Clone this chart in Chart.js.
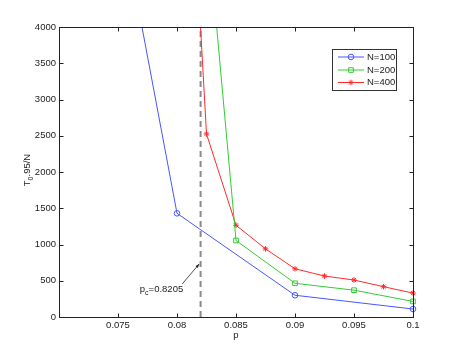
<!DOCTYPE html>
<html>
<head>
<meta charset="utf-8">
<script src="https://cdn.jsdelivr.net/npm/chart.js@4.4.1/dist/chart.umd.min.js"></script>
<style>
  body { margin: 0; background: #fff; }
  canvas { display: block; }
</style>
</head>
<body>
<canvas id="chart" width="457" height="357"></canvas>
<script>
// data
const p100 = [0.075, 0.08, 0.09, 0.1];
const t100 = [5760, 1430, 300, 110];

const p200 = [0.08, 0.085, 0.09, 0.095, 0.1];
const t200 = [10050, 1055, 465, 370, 215];

const p400 = [0.08, 0.0825, 0.085, 0.0875, 0.09, 0.0925, 0.095, 0.0975, 0.1];
const t400 = [9820, 2525, 1265, 940, 665, 565, 510, 418, 330];

const seriesLabels = ['N=100', 'N=200', 'N=400'];

// critical point marker
const pc = 0.082;
const pcRange = [0, 4000];
const pcText = { p: 'p', sub: 'c', rest: '=0.8205' };
const pcTextPos = [0.07685, 386];   // (p, T) of the label
const pcArrowTip = [0.0820, 730];

const xMin = 0.07, xMax = 0.1, xStep = 0.005;
const yMin = 0, yMax = 4000, yStep = 500;

const FONT = '"Liberation Sans", Arial, Helvetica, sans-serif';
const INK = '#222';

function pts(xs, ys) {
    return xs.map((x, i) => ({ x: x, y: ys[i] }));
}

const colors = ['#4656ff', '#33cc33', '#ff2a2a'];
const styles = [
    { pointStyle: 'circle', radius: 2.8 },
    { pointStyle: 'rect', radius: 3.3 },
    { pointStyle: 'star', radius: 2.8 }
];

function series(i, data) {
    return {
        label: seriesLabels[i],
        data: data,
        borderColor: colors[i],
        backgroundColor: 'rgba(0,0,0,0)',
        borderWidth: 1,
        pointStyle: styles[i].pointStyle,
        pointRadius: styles[i].radius,
        pointBorderWidth: 1,
        pointBorderColor: colors[i],
        pointBackgroundColor: 'rgba(0,0,0,0)',
        tension: 0,
        clip: { left: 6, top: 0, right: 8, bottom: 6 }
    };
}

// box, inward ticks, axis titles, legend, annotation
const decorations = {
    id: 'decorations',
    afterDraw(chart) {
        const ctx = chart.ctx;
        const a = chart.chartArea;
        const xs = chart.scales.x, ys = chart.scales.y;
        ctx.save();
        ctx.strokeStyle = INK;
        ctx.lineWidth = 1;
        const L = Math.round(a.left) + 0.5, R = Math.round(a.right) + 0.5;
        const T = Math.round(a.top) + 0.5, B = Math.round(a.bottom) + 0.5;
        ctx.strokeRect(L, T, R - L, B - T);
        const tl = 4;
        ctx.beginPath();
        xs.ticks.forEach(t => {
            const px = Math.round(xs.getPixelForValue(t.value)) + 0.5;
            ctx.moveTo(px, B); ctx.lineTo(px, B - tl);
            ctx.moveTo(px, T); ctx.lineTo(px, T + tl);
        });
        ys.ticks.forEach(t => {
            const py = Math.round(ys.getPixelForValue(t.value)) + 0.5;
            ctx.moveTo(L, py); ctx.lineTo(L + tl, py);
            ctx.moveTo(R, py); ctx.lineTo(R - tl, py);
        });
        ctx.stroke();

        // x title
        ctx.fillStyle = INK;
        ctx.font = '9.5px ' + FONT;
        ctx.textAlign = 'center';
        ctx.textBaseline = 'middle';
        ctx.fillText('p', (a.left + a.right) / 2, 335);

        // y title: T subscript 0 then .95/N
        ctx.save();
        ctx.translate(30, 170);
        ctx.rotate(-Math.PI / 2);
        ctx.textBaseline = 'alphabetic';
        ctx.textAlign = 'left';
        const big = '9.5px ' + FONT, small = '7px ' + FONT;
        ctx.font = big; const wT = ctx.measureText('T').width;
        ctx.font = small; const w0 = ctx.measureText('0').width;
        ctx.font = big; const wR = ctx.measureText('.95/N').width;
        let x0 = -(wT + w0 + wR) / 2;
        ctx.fillText('T', x0, 0);
        ctx.font = small; ctx.fillText('0', x0 + wT, 2.5);
        ctx.font = big; ctx.fillText('.95/N', x0 + wT + w0, 0);
        ctx.restore();

        // annotation
        const tx = xs.getPixelForValue(pcTextPos[0]);
        const ty = ys.getPixelForValue(pcTextPos[1]);
        ctx.font = big;
        ctx.textAlign = 'left';
        ctx.textBaseline = 'alphabetic';
        ctx.fillText(pcText.p, tx, ty + 3);
        const wp = ctx.measureText(pcText.p).width;
        ctx.font = small;
        ctx.fillText(pcText.sub, tx + wp, ty + 6);
        const wc = ctx.measureText(pcText.sub).width;
        ctx.font = big;
        ctx.fillText(pcText.rest, tx + wp + wc, ty + 3);
        const wr = ctx.measureText(pcText.rest).width;
        const sx = tx + wp + wc + wr - 1, sy = ty - 5;
        const ex = xs.getPixelForValue(pcArrowTip[0]) - 1.5;
        const ey = ys.getPixelForValue(pcArrowTip[1]);
        ctx.strokeStyle = INK;
        ctx.lineWidth = 0.8;
        ctx.beginPath(); ctx.moveTo(sx, sy); ctx.lineTo(ex, ey); ctx.stroke();
        const ang = Math.atan2(ey - sy, ex - sx);
        ctx.beginPath();
        ctx.moveTo(ex, ey);
        ctx.lineTo(ex - 4 * Math.cos(ang - 0.4), ey - 4 * Math.sin(ang - 0.4));
        ctx.lineTo(ex - 4 * Math.cos(ang + 0.4), ey - 4 * Math.sin(ang + 0.4));
        ctx.closePath();
        ctx.fill();

        // legend
        const bx = 332.5, by = 49.5, bw = 64, bh = 41;
        ctx.fillStyle = '#fff';
        ctx.fillRect(bx, by, bw, bh);
        ctx.strokeStyle = '#333';
        ctx.lineWidth = 1;
        ctx.strokeRect(bx, by, bw, bh);
        const rows = [57, 70, 82.5];
        seriesLabels.forEach((lab, i) => {
            const y = rows[i];
            ctx.strokeStyle = colors[i];
            ctx.lineWidth = 1;
            ctx.beginPath(); ctx.moveTo(338, y); ctx.lineTo(364, y); ctx.stroke();
            ctx.fillStyle = 'rgba(0,0,0,0)';
            Chart.helpers.drawPoint(ctx, { pointStyle: styles[i].pointStyle, radius: styles[i].radius, rotation: 0, borderWidth: 1 }, 351, y);
            ctx.fillStyle = INK;
            ctx.font = big;
            ctx.textAlign = 'left';
            ctx.textBaseline = 'middle';
            ctx.fillText(lab, 367, y);
        });
        ctx.restore();
    }
};

const fmt = v => String(parseFloat(Number(v).toFixed(4)));

new Chart(document.getElementById('chart').getContext('2d'), {
    type: 'line',
    data: {
        datasets: [
            series(0, pts(p100, t100)),
            series(1, pts(p200, t200)),
            series(2, pts(p400, t400)),
            {
                label: '',
                data: pts([pc, pc], pcRange),
                borderColor: '#8a8a8a',
                borderWidth: 2,
                borderDash: [6, 4],
                pointRadius: 0,
                fill: false
            }
        ]
    },
    options: {
        responsive: false,
        animation: false,
        layout: { padding: { top: 27, right: 44, left: 0, bottom: 0 } },
        plugins: {
            legend: { display: false },
            tooltip: { enabled: false }
        },
        scales: {
            x: {
                type: 'linear',
                min: xMin, max: xMax,
                grid: { display: false, drawTicks: false },
                border: { display: false },
                ticks: {
                    stepSize: xStep,
                    color: INK,
                    font: { family: FONT, size: 9.5 },
                    padding: 3,
                    maxRotation: 0,
                    callback: v => Math.abs(v - xMin) < 1e-9 ? '' : fmt(v)
                },
                afterFit: s => { s.height = 40; }
            },
            y: {
                type: 'linear',
                min: yMin, max: yMax,
                grid: { display: false, drawTicks: false },
                border: { display: false },
                ticks: {
                    stepSize: yStep,
                    color: INK,
                    font: { family: FONT, size: 9.5 },
                    padding: 3,
                    callback: v => String(v)
                },
                afterFit: s => { s.width = 59; }
            }
        }
    },
    plugins: [decorations]
});
</script>
</body>
</html>
